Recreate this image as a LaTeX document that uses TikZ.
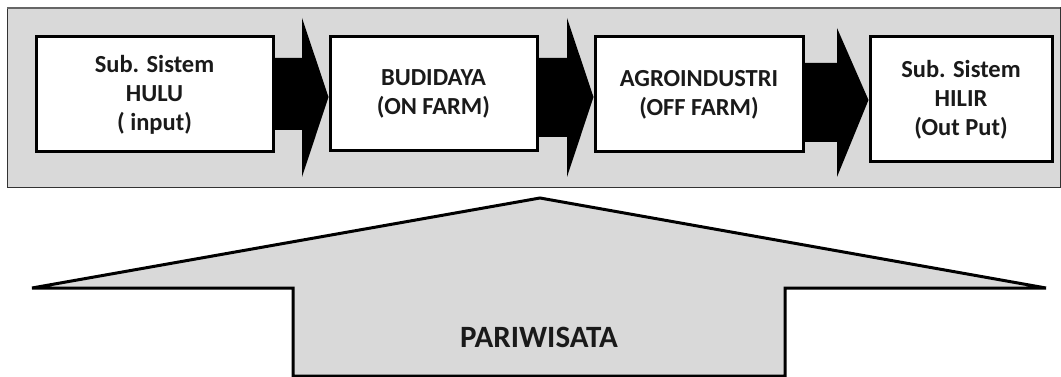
\documentclass[tikz,border=0pt]{standalone}
\usepackage{fontspec}
\setmainfont{Carlito}
\usetikzlibrary{calc}
\definecolor{panel}{HTML}{D9D9D9}
\definecolor{txt}{HTML}{1A1A1A}
\begin{document}
\begin{tikzpicture}[x=1pt,y=-1pt,
  stagebox/.style={draw=black,line width=3pt,fill=white,rectangle,inner sep=0pt,
    align=center,text=txt,font=\bfseries\fontsize{24.5}{29}\selectfont},
  blockarrow/.style={fill=black,draw=none},
  bigarrow/.style={draw=black,line width=3pt,fill=panel,line join=miter}]
\useasboundingbox (0,0) rectangle (1061,377);
% outer panel
\draw[fill=panel,draw=black!80,line width=1pt] (7,8) rectangle (1060,188);
\draw[draw=black!60,line width=2.5pt] (7,8) -- (1060,8);
% stage boxes
\node[stagebox,minimum width=237pt,minimum height=115pt] (b1) at (154.5,94.5)
  {Sub. Sistem\\HULU\\( input)};
\node[stagebox,minimum width=207pt,minimum height=114pt] (b2) at (433.5,94)
  {BUDIDAYA\\(ON FARM)};
\node[stagebox,minimum width=208pt,minimum height=115pt] (b3) at (699,94.5)
  {AGROINDUSTRI\\(OFF FARM)};
\node[stagebox,minimum width=182pt,minimum height=125pt] (b4) at (961,99.5)
  {Sub. Sistem\\HILIR\\(Out Put)};
% block arrows between stages
\fill[blockarrow] (b1.east |- 0,58) -- (302,58) -- (302,18) -- (b2.west |- 0,97)
  -- (302,177) -- (302,130) -- (b1.east |- 0,130) -- cycle;
\fill[blockarrow] (b2.east |- 0,58) -- (567,58) -- (567,18) -- (b3.west |- 0,97)
  -- (567,177) -- (567,137) -- (b2.east |- 0,137) -- cycle;
\fill[blockarrow] (b3.east |- 0,63) -- (837,63) -- (837,28) -- (b4.west |- 0,100)
  -- (837,177) -- (837,142) -- (b3.east |- 0,142) -- cycle;
% big upward arrow
\draw[bigarrow] (540,198) -- (1046,288) -- (785,288) -- (785,376) -- (293,376)
  -- (293,288) -- (32,288) -- cycle;
\node[text=txt,font=\bfseries\fontsize{31}{36}\selectfont] (pw) at (539,337) {PARIWISATA};
\end{tikzpicture}
\end{document}
